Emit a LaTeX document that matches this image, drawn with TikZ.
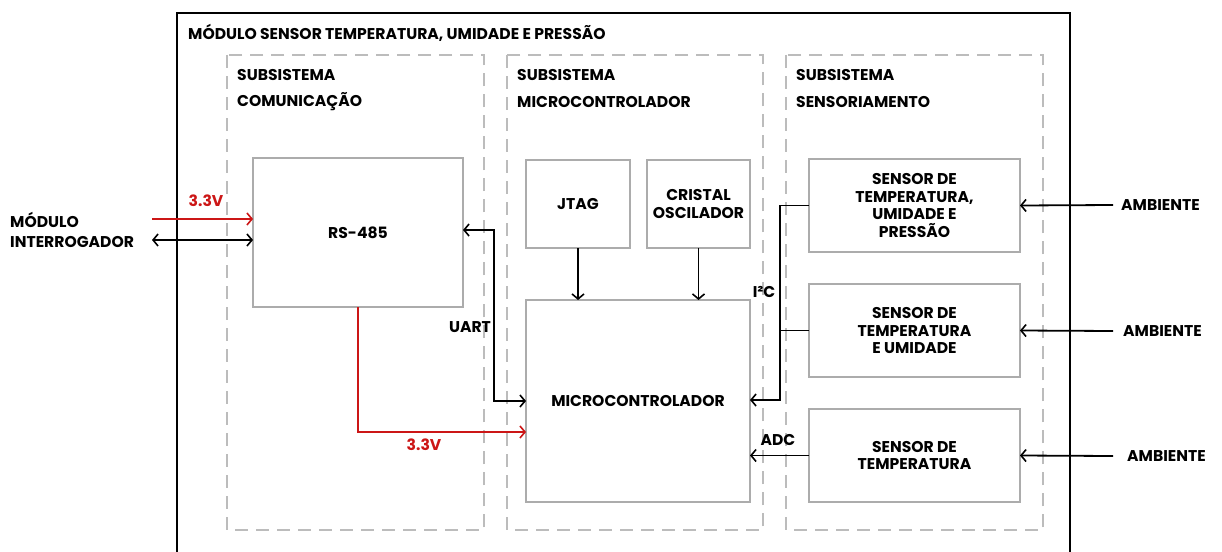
\documentclass[tikz,border=0pt]{standalone}
\usepackage{fontspec}
\setmainfont{Poppins}
\usetikzlibrary{arrows.meta}
\definecolor{boxgray}{RGB}{172,172,172}
\definecolor{dashgray}{RGB}{188,188,188}
\definecolor{myred}{RGB}{204,22,22}
\begin{document}
\begin{tikzpicture}[x=1pt,y=-1pt,
  font=\bfseries\fontsize{15.6}{20.5}\selectfont,
  blk/.style={draw=boxgray, line width=1.7pt, align=center, inner sep=0pt, outer sep=0pt},
  subsys/.style={draw=dashgray, line width=1.7pt, dash pattern=on 13pt off 8pt},
  lbl/.style={anchor=west, inner sep=0pt},
  arr/.style={line width=1.8pt, -{Straight Barb[length=5pt,width=12pt,line width=1.6pt]}},
  darr/.style={line width=1.8pt, {Straight Barb[length=5pt,width=12pt,line width=1.6pt]}-{Straight Barb[length=5pt,width=12pt,line width=1.6pt]}},
  pw/.style={myred}]
\useasboundingbox (0,0) rectangle (1222,551);
\fill[white] (0,0) rectangle (1222,551);
% outer module
\draw[line width=2.8pt] (177,575) -- (177,13) -- (1070,13) -- (1070,575);
\node[lbl] (title) at (188,33) {MÓDULO SENSOR TEMPERATURA, UMIDADE E PRESSÃO};
% subsystems
\draw[subsys] (227,55) rectangle (484,530);
\draw[subsys] (507,55) rectangle (763,530);
\draw[subsys] (786,55) rectangle (1043,530);
\node[lbl] (s1a) at (237,75) {SUBSISTEMA};
\node[lbl] (s1b) at (237,102) {COMUNICAÇÃO};
\node[lbl] (s2a) at (517,75) {SUBSISTEMA};
\node[lbl] (s2b) at (517,102) {MICROCONTROLADOR};
\node[lbl] (s3a) at (796,75) {SUBSISTEMA};
\node[lbl] (s3b) at (796,102) {SENSORIAMENTO};
% blocks
\node[blk, minimum width=210pt, minimum height=149pt] (rs) at (358,232.5) {RS-485};
\node[blk, minimum width=104pt, minimum height=88pt] (jt) at (578,204) {JTAG};
\node[blk, minimum width=103pt, minimum height=88pt] (cr) at (698.5,204) {CRISTAL\\[-3pt]OSCILADOR};
\node[blk, minimum width=224pt, minimum height=202pt] (mc) at (638,401) {MICROCONTROLADOR};
\node[blk, minimum width=211pt, minimum height=93pt] (sa) at (914.5,205.5) {SENSOR DE\\[-3pt]TEMPERATURA,\\[-3pt]UMIDADE E\\[-3pt]PRESSÃO};
\node[blk, minimum width=211pt, minimum height=93pt] (sb) at (914.5,330.5) {SENSOR DE\\[-3pt]TEMPERATURA\\[-3pt]E UMIDADE};
\node[blk, minimum width=211pt, minimum height=93pt] (sc) at (914.5,455.5) {SENSOR DE\\[-3pt]TEMPERATURA};
% external
\node[anchor=west, align=left, inner sep=0pt] (mi) at (10,230) {MÓDULO\\[-1pt]INTERROGADOR};
\coordinate (r0) at (152,219);
\coordinate (b0) at (152,240);
\draw[arr, pw] (r0) -- (rs.west |- r0);
\node[pw] (v1) at (206,201) {3.3V};
\draw[darr] (b0) -- (rs.west |- b0);
% UART
\coordinate (u1) at (494,230);
\draw[darr] (rs.east |- u1) -- (u1) |- (mc.west);
\node (uart) at (470,327) {UART};
% power to MCU
\coordinate (p1) at (358,432);
\draw[arr, pw] (rs.south) -- (p1) -- (mc.west |- p1);
\node[pw] (v2) at (424,445) {3.3V};
% JTAG / crystal
\draw[arr] (jt.south) -- (jt.south |- mc.north);
\draw[arr] (cr.south) -- (cr.south |- mc.north);
% I2C
\coordinate (i2) at (780,400);
\draw[arr] (sa.west) -| (i2) -- (mc.east |- i2);
\draw[line width=1.8pt] (sb.west) -- (sb.west -| i2);
\node (i2c) at (764,292) {I²C};
% ADC
\draw[arr] (sc.west) -- (sc.west -| mc.east);
\node (adc) at (778,440) {ADC};
% ambient
\node[lbl] (a1) at (1121,205) {AMBIENTE};
\node[lbl] (a2) at (1123,331) {AMBIENTE};
\node[lbl] (a3) at (1127,456) {AMBIENTE};
\draw[arr] ([xshift=-8pt]a1.west) -- (sa.east);
\draw[arr] ([xshift=-10pt]a2.west) -- (sb.east);
\draw[arr] ([xshift=-14pt]a3.west) -- (sc.east);
\end{tikzpicture}
\end{document}
